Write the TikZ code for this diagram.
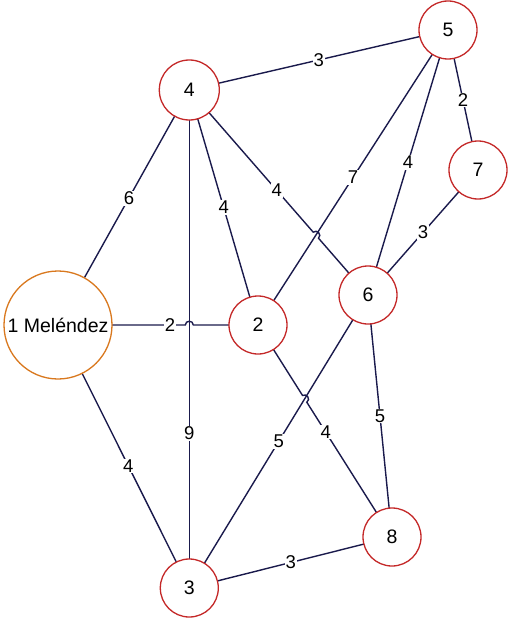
\documentclass[tikz,border=0pt]{standalone}
\usepackage{fontspec}
\setmainfont{Liberation Sans}
\usetikzlibrary{calc}
\definecolor{edgec}{HTML}{1A1A4C}
\definecolor{nodec}{HTML}{C42828}
\definecolor{orangec}{HTML}{D9781E}
\tikzset{
  vtx/.style={circle,draw=nodec,line width=1.3pt,fill=white,minimum size=58pt,inner sep=0pt,font=\fontsize{19.5}{22}\selectfont},
  big/.style={vtx,draw=orangec,minimum size=108pt},
  edge/.style={draw=edgec,line width=1.4pt},
  lbl/.style={fill=white,inner sep=1pt,font=\fontsize{18.5}{22}\selectfont}
}
\begin{document}
\begin{tikzpicture}[x=1pt,y=-1pt]
\useasboundingbox (0,0) rectangle (514,623);
% node centers
\coordinate (c1) at (58,325);
\coordinate (c2) at (258,325);
\coordinate (c3) at (189.3,588);
\coordinate (c4) at (189.3,90);
\coordinate (c5) at (448,30);
\coordinate (c6) at (368,295);
\coordinate (c7) at (478,170);
\coordinate (c8) at (392,537);
% crossings
\coordinate (X1) at (intersection of c1--c2 and c4--c3);
\coordinate (X2) at (intersection of c4--c6 and c5--c2);
\coordinate (X3) at (intersection of c2--c8 and c6--c3);
\foreach \X/\a/\b in {X1/c1/c2, X2/c4/c6, X3/c2/c8} {
  \coordinate (\X a) at ($(\X)!4pt!(\a)$);
  \coordinate (\X b) at ($(\X)!4pt!(\b)$);
}
% edges
\draw[edge] (c4) -- (c5);
\draw[edge] (c5) -- (c7);
\draw[edge] (c5) -- (c6);
\draw[edge] (c5) -- (c2);
\draw[edge] (c7) -- (c6);
\draw[edge] (c4) -- (c1);
\draw[edge] (c4) -- (c2);
\draw[edge] (c4) -- (c3);
\draw[edge] (c1) -- (c3);
\draw[edge] (c6) -- (c3);
\draw[edge] (c6) -- (c8);
\draw[edge] (c3) -- (c8);
\draw[edge] (c1) -- (X1a) .. controls ($(X1a)!5pt!90:(X1)$) and ($(X1b)!5pt!-90:(X1)$) .. (X1b) -- (c2);
\draw[edge] (c4) -- (X2a) .. controls ($(X2a)!5pt!90:(X2)$) and ($(X2b)!5pt!-90:(X2)$) .. (X2b) -- (c6);
\draw[edge] (c2) -- (X3a) .. controls ($(X3a)!5pt!90:(X3)$) and ($(X3b)!5pt!-90:(X3)$) .. (X3b) -- (c8);
% labels
\node[lbl] (l45) at ($(c4)!0.5!(c5)$) {3};
\node[lbl] (l57) at ($(c5)!0.5!(c7)$) {2};
\node[lbl] (l56) at ($(c5)!0.5!(c6)$) {4};
\node[lbl] (l52) at ($(c5)!0.5!(c2)$) {7};
\node[lbl] (l76) at ($(c7)!0.5!(c6)$) {3};
\node[lbl] (l41) at ($(c4)!0.46!(c1)$) {6};
\node[lbl] (l42) at ($(c4)!0.5!(c2)$) {4};
\node[lbl] (l46) at ($(c4)!0.49!(c6)$) {4};
\node[lbl] (l43) at ($(c4)!0.69!(c3)$) {9};
\node[lbl] (l12) at ($(c1)!0.56!(c2)$) {2};
\node[lbl] (l13) at ($(c1)!0.536!(c3)$) {4};
\node[lbl] (l63) at ($(c6)!0.5!(c3)$) {5};
\node[lbl] (l28) at ($(c2)!0.505!(c8)$) {4};
\node[lbl] (l68) at ($(c6)!0.5!(c8)$) {5};
\node[lbl] (l38) at ($(c3)!0.5!(c8)$) {3};
% vertices
\node[big] (n1) at (c1) {1 Meléndez};
\node[vtx] (n2) at (c2) {2};
\node[vtx] (n3) at (c3) {3};
\node[vtx,minimum size=60pt] (n4) at (c4) {4};
\node[vtx] (n5) at (c5) {5};
\node[vtx] (n6) at (c6) {6};
\node[vtx] (n7) at (c7) {7};
\node[vtx] (n8) at (c8) {8};
\end{tikzpicture}
\end{document}
